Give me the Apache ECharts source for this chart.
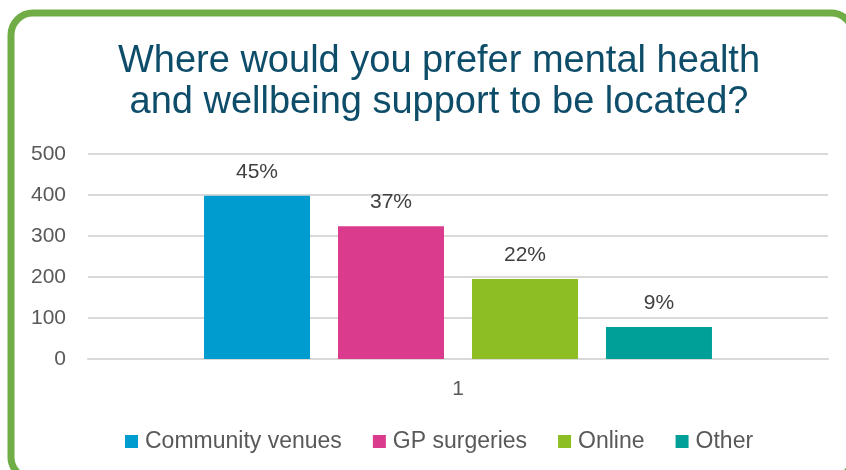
<!DOCTYPE html>
<html>
<head>
<meta charset="utf-8">
<script src="https://cdn.jsdelivr.net/npm/echarts@6/dist/echarts.min.js"></script>
<style>
html,body{margin:0;padding:0;background:#fff;}
#chart{width:846px;height:470px;}
</style>
</head>
<body>
<div id="chart"></div>
<script>
var titleText = 'Where would you prefer mental health\nand wellbeing support to be located?';
var categories = ['1'];
var seriesNames = ['Community venues', 'GP surgeries', 'Online', 'Other'];
var seriesValues = [398, 324, 195, 78];
var seriesPercents = ['45%', '37%', '22%', '9%'];
var seriesColors = ['#009BCF', '#DB3B8D', '#8DBE23', '#00A098'];
var yTicks = [0, 100, 200, 300, 400, 500];

var FONT = '"Liberation Sans", Arial, sans-serif';
var chart = echarts.init(document.getElementById('chart'), null, {renderer: 'canvas'});

var series = seriesNames.map(function (name, i) {
  return {
    name: name,
    type: 'bar',
    data: [seriesValues[i]],
    barWidth: 106,
    barGap: '26.4%',
    itemStyle: {color: seriesColors[i]},
    label: {
      show: true,
      position: 'top',
      distance: 13,
      formatter: (function (p) { return function () { return p; }; })(seriesPercents[i]),
      fontFamily: FONT,
      fontSize: 21,
      color: '#404040'
    }
  };
});

chart.setOption({
  animation: false,
  backgroundColor: '#ffffff',
  graphic: [{
    type: 'rect',
    shape: {x: 11, y: 13, width: 842, height: 466, r: 22},
    style: {fill: 'none', stroke: '#70AD47', lineWidth: 7},
    z: -1
  }],
  title: {
    text: titleText,
    left: 434,
    top: 36,
    textAlign: 'center',
    textStyle: {
      fontFamily: FONT,
      fontSize: 38,
      fontWeight: 'normal',
      color: '#0E4D6A',
      lineHeight: 41
    }
  },
  legend: {
    data: seriesNames,
    left: 125,
    top: 430,
    padding: 0,
    itemWidth: 13,
    itemHeight: 13,
    itemGap: 31,
    icon: 'rect',
    textStyle: {fontFamily: FONT, fontSize: 23, color: '#595959', padding: [0, 0, 0, 2]}
  },
  grid: {left: 88, right: 18, top: 154, bottom: 111, containLabel: false},
  xAxis: {
    type: 'category',
    data: categories,
    axisLine: {show: true, lineStyle: {color: '#D9D9D9', width: 2}},
    axisTick: {show: false},
    axisLabel: {fontFamily: FONT, fontSize: 21, color: '#595959', margin: 20}
  },
  yAxis: {
    type: 'value',
    min: yTicks[0],
    max: yTicks[yTicks.length - 1],
    interval: yTicks[1] - yTicks[0],
    axisLine: {show: false},
    axisTick: {show: false},
    splitLine: {lineStyle: {color: '#D9D9D9', width: 2}},
    axisLabel: {fontFamily: FONT, fontSize: 21, color: '#595959', margin: 22}
  },
  series: series
});
</script>
</body>
</html>
